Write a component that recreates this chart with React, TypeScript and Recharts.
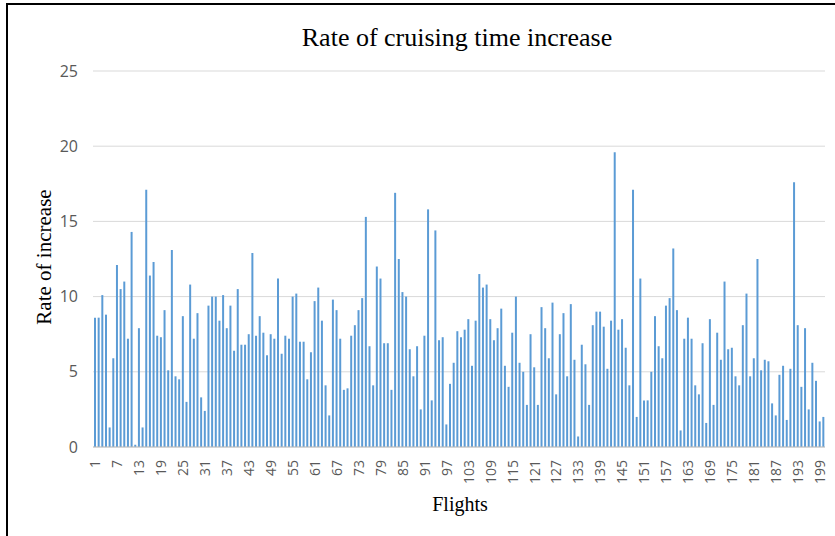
import { BarChart, Bar, XAxis, YAxis, CartesianGrid } from 'recharts'

const RATES = [
  8.6, 8.6, 10.1, 8.8, 1.3, 5.9, 12.1, 10.5, 11.0, 7.2,
  14.3, 0.15, 7.9, 1.3, 17.1, 11.4, 12.3, 7.4, 7.3, 9.1,
  5.1, 13.1, 4.7, 4.5, 8.7, 3.0, 10.8, 7.2, 8.9, 3.3,
  2.4, 9.4, 10.0, 10.0, 8.4, 10.1, 7.9, 9.4, 6.4, 10.5,
  6.8, 6.8, 7.5, 12.9, 7.4, 8.7, 7.6, 6.1, 7.5, 7.2,
  11.2, 6.2, 7.4, 7.2, 10.0, 10.2, 7.0, 7.0, 4.5, 6.3,
  9.7, 10.6, 8.4, 4.1, 2.1, 9.8, 9.1, 7.2, 3.8, 3.9,
  7.4, 8.1, 9.1, 9.9, 15.3, 6.7, 4.1, 12.0, 11.2, 6.9,
  6.9, 3.8, 16.9, 12.5, 10.3, 10.0, 6.5, 4.7, 6.7, 2.5,
  7.4, 15.8, 3.1, 14.4, 7.1, 7.3, 1.5, 4.2, 5.6, 7.7,
  7.3, 7.8, 8.5, 5.4, 8.4, 11.5, 10.6, 10.8, 8.5, 7.1,
  7.9, 9.2, 5.4, 4.0, 7.6, 10.0, 5.6, 5.0, 2.8, 7.5,
  5.3, 2.8, 9.3, 7.9, 5.9, 9.6, 3.5, 7.5, 8.9, 4.7,
  9.5, 5.8, 0.7, 6.8, 5.5, 2.8, 8.1, 9.0, 9.0, 8.0,
  5.2, 8.4, 19.6, 7.8, 8.5, 6.6, 4.1, 17.1, 2.0, 11.2,
  3.1, 3.1, 5.0, 8.7, 6.7, 5.9, 9.4, 9.9, 13.2, 9.1,
  1.1, 7.2, 8.6, 7.2, 4.1, 3.5, 6.9, 1.6, 8.5, 2.8,
  7.6, 5.8, 11.0, 6.5, 6.6, 4.7, 4.1, 8.1, 10.2, 4.7,
  5.9, 12.5, 5.1, 5.8, 5.7, 2.9, 2.1, 4.8, 5.4, 1.8,
  5.2, 17.6, 8.1, 4.0, 7.9, 2.5, 5.6, 4.4, 1.7, 2.0,
]
const FLIGHTS = RATES.map((_, i) => String(i + 1))
const Y_TICKS = [0, 5, 10, 15, 20, 25]

const data = FLIGHTS.map((f, i) => ({ flight: f, rate: RATES[i] }))

const FlightTick = (props: any) => {
  const { x, y, payload } = props
  return (
    <text
      transform={`translate(${x},${y + 5}) rotate(-90)`}
      textAnchor="end"
      dominantBaseline="central"
      fontSize={14}
      fontFamily="'Open Sans', sans-serif"
      fill="#595959"
    >
      {payload.value}
    </text>
  )
}

export default function App() {
  return (
    <div style={{ position: 'absolute', left: 0, top: 0, width: 835, height: 536, background: '#fff', overflow: 'hidden' }}>
      <div style={{ position: 'absolute', left: 6, top: 3, width: 840, height: 545, borderLeft: '2px solid #000', borderTop: '2px solid #000' }} />
      <div style={{ position: 'absolute', left: 0, top: 0 }}>
        <BarChart width={835} height={536} data={data} margin={{ top: 71, right: 10, bottom: 0, left: 0 }} barSize={2}>
          <CartesianGrid vertical={false} stroke="#d9d9d9" />
          <XAxis
            dataKey="flight"
            interval={5}
            tick={<FlightTick />}
            tickLine={false}
            axisLine={{ stroke: '#bfbfbf' }}
            height={89}
          />
          <YAxis
            domain={[0, 25]}
            ticks={Y_TICKS}
            width={93}
            tickSize={0}
            tickMargin={15}
            axisLine={false}
            tick={{ fontSize: 16, fill: '#595959', fontFamily: "'Open Sans', sans-serif" }}
          />
          <Bar dataKey="rate" fill="#5b9bd5" isAnimationActive={false} />
        </BarChart>
      </div>
      <div style={{ position: 'absolute', left: 457, top: 38, transform: 'translate(-50%, -50%)', whiteSpace: 'nowrap', fontFamily: "'Liberation Serif', serif", fontSize: 26, color: '#000' }}>
        Rate of cruising time increase
      </div>
      <div style={{ position: 'absolute', left: 44, top: 257, transform: 'translate(-50%, -50%) rotate(-90deg)', whiteSpace: 'nowrap', fontFamily: "'Liberation Serif', serif", fontSize: 21, color: '#000' }}>
        Rate of increase
      </div>
      <div style={{ position: 'absolute', left: 460, top: 504, transform: 'translate(-50%, -50%)', whiteSpace: 'nowrap', fontFamily: "'Liberation Serif', serif", fontSize: 20, color: '#000' }}>
        Flights
      </div>
    </div>
  )
}
